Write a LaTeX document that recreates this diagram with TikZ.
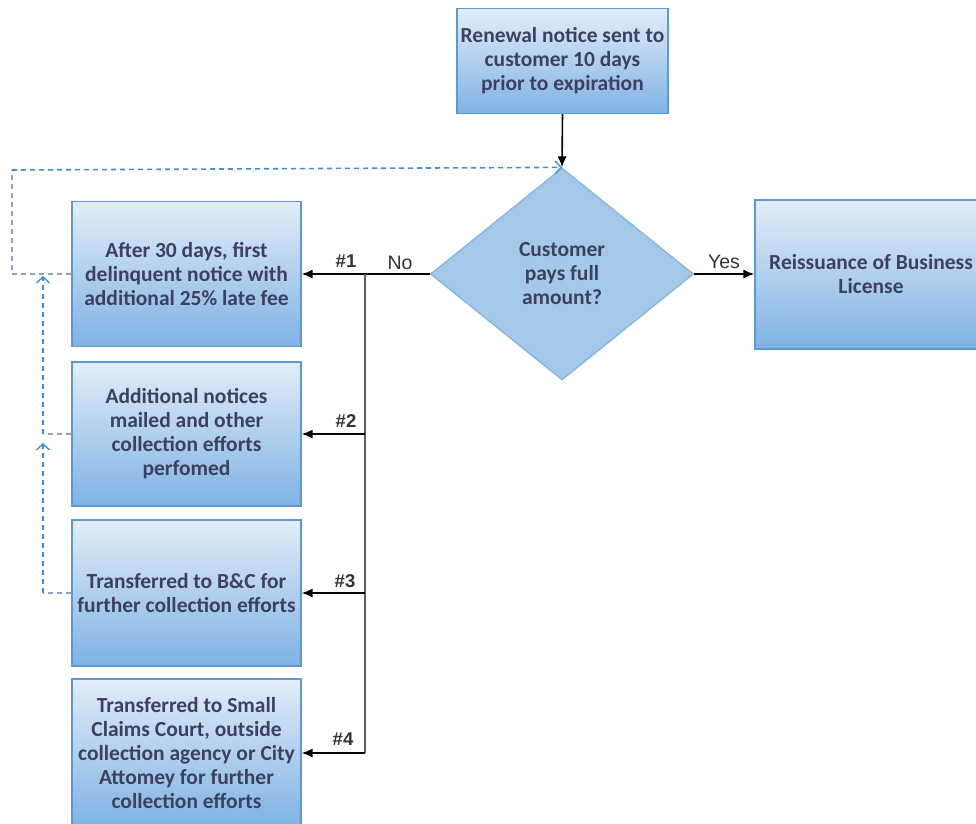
\documentclass[tikz,border=0pt]{standalone}
\usepackage{fontspec}
\setmainfont{Carlito}
\newfontfamily\lblfont{Liberation Sans}
\usetikzlibrary{shapes.geometric,arrows.meta}
\definecolor{boxtop}{HTML}{E3EDF8}
\definecolor{boxbot}{HTML}{7EB2E4}
\definecolor{boxedge}{HTML}{5B9BD5}
\definecolor{txt}{HTML}{3E4060}
\definecolor{dashblue}{HTML}{3F8ED6}
\definecolor{dashgray}{HTML}{8FA3C4}
\definecolor{diafill}{HTML}{A3C8EA}
\definecolor{diaedge}{HTML}{86B4E2}
\definecolor{linegray}{HTML}{5E5E6A}
\tikzset{
  procbox/.style={draw=boxedge, line width=1.3pt, top color=boxtop, bottom color=boxbot,
    text=txt, font=\bfseries\fontsize{21.5}{24}\selectfont, align=center, inner sep=0pt},
  decision/.style={diamond, draw=diaedge, line width=1.3pt, fill=diafill, text=txt,
    font=\bfseries\fontsize{21.5}{24}\selectfont, align=center, inner sep=0pt,
    minimum width=263pt, minimum height=212pt, shape aspect=1.24},
  flow/.style={draw=black, line width=1.6pt, -{Latex[length=11pt,width=9pt]}},
  branch/.style={draw=linegray, line width=1.5pt},
  loopblue/.style={draw=dashblue, line width=1.6pt, dash pattern=on 5pt off 4pt},
  loopgray/.style={draw=dashgray, line width=1.4pt, dash pattern=on 5pt off 4pt},
  chev/.style={-{Straight Barb[length=6pt,width=13pt,line width=1.4pt]}},
  lbl/.style={text=black!80, font=\lblfont\fontsize{19.5}{22}\selectfont, inner sep=0pt},
  numlbl/.style={text=black!80, font=\lblfont\bfseries\fontsize{18.5}{22}\selectfont, inner sep=0pt}
}
\begin{document}
\begin{tikzpicture}[x=1pt,y=-1pt]
\useasboundingbox (0,0) rectangle (976,823);
\node[procbox, minimum width=211pt, minimum height=105pt] (top) at (562.5,61) {Renewal notice sent to\\customer 10 days\\prior to expiration};
\node[decision] (d) at (562,274) {Customer\\pays full\\amount?};
\node[procbox, minimum width=232pt, minimum height=149pt] (r) at (871,274.5) {Reissuance of Business\\License};
\node[procbox, minimum width=229pt, minimum height=145pt] (b1) at (186.5,274) {After 30 days, first\\delinquent notice with\\additional 25\% late fee};
\node[procbox, minimum width=229pt, minimum height=144pt] (b2) at (186.5,434) {Additional notices\\mailed and other\\collection efforts\\perfomed};
\node[procbox, minimum width=229pt, minimum height=146pt] (b3) at (186.5,593) {Transferred to B\&C for\\further collection efforts};
\node[procbox, minimum width=229pt, minimum height=148pt] (b4) at (186.5,753) {Transferred to Small\\Claims Court, outside\\collection agency or City\\Attomey for further\\collection efforts};

% main flow
\draw[flow] (top.south) -- (d.north);
\draw[flow] (d.east) -- (r.west |- d.east);
\draw[flow] (d.west) -- (b1.east);
\coordinate (j) at (365,274);
\coordinate (jb) at (365,753);
\draw[branch] (j) -- (jb);
\draw[flow] (j |- b2.east) -- (b2.east);
\draw[flow] (j |- b3.east) -- (b3.east);
\draw[flow] (jb) -- (b4.east);

% labels
\node[numlbl] (l1) at (346,261) {\#1};
\node[numlbl] (l2) at (346,421) {\#2};
\node[numlbl] (l3) at (345,581) {\#3};
\node[numlbl] (l4) at (343,739) {\#4};
\node[lbl] (no) at (400,263) {No};
\node[lbl] (yes) at (724,262) {Yes};

% dashed loops
\coordinate (c1) at (12,274);
\coordinate (c2) at (12,170);
\coordinate (c3) at (43,434);
\coordinate (c4) at (43,593);
\draw[loopgray] (b1.west) -- (c1) -- (c2);
\draw[loopblue, chev] (c2) -- (d.north);
\draw[loopgray] (b3.west) -- (c4);
\draw[loopblue, chev] (c4) -- (43,443);
\draw[loopgray] (b2.west) -- (c3);
\draw[loopblue, chev] (c3) -- (43,276);
\end{tikzpicture}
\end{document}
